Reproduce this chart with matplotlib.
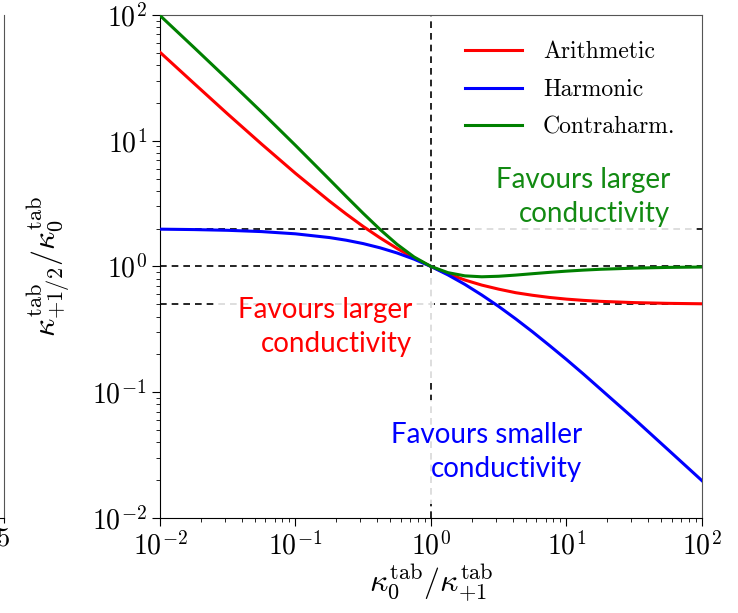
import numpy as np
import matplotlib
matplotlib.use('Agg')
import matplotlib.pyplot as plt

plt.rcParams['font.family'] = 'serif'
plt.rcParams['font.serif'] = ['cmr10']
plt.rcParams['mathtext.fontset'] = 'cm'
plt.rcParams['axes.formatter.use_mathtext'] = True
plt.rcParams['axes.unicode_minus'] = False

# conductivity ratio kappa_0 / kappa_{+1}
ratio = [0.01, 0.0178, 0.0316, 0.0562, 0.1, 0.178, 0.237, 0.316, 0.422, 0.562,
         0.75, 1.0, 1.334, 1.78, 2.37, 3.16, 4.22, 5.62, 7.5, 10.0, 13.34,
         17.8, 31.6, 56.2, 100.0]

# face value / kappa_0 for each averaging rule
arithmetic = [50.5, 28.6, 16.3, 9.4, 5.5, 3.31, 2.61, 2.08, 1.685, 1.39,
              1.167, 1.0, 0.875, 0.78, 0.711, 0.66, 0.6185, 0.59, 0.567, 0.55,
              0.5375, 0.528, 0.516, 0.509, 0.505]
harmonic = [1.98, 1.965, 1.939, 1.894, 1.818, 1.698, 1.617, 1.52, 1.406, 1.28,
            1.143, 1.0, 0.857, 0.72, 0.593, 0.481, 0.383, 0.302, 0.235, 0.182,
            0.1395, 0.106, 0.0614, 0.0349, 0.0198]
contraharm = [99.0, 55.2, 30.7, 16.9, 9.18, 4.92, 3.60, 2.645, 1.963, 1.499,
              1.19, 1.0, 0.893, 0.842, 0.828, 0.836, 0.854, 0.876, 0.898, 0.918,
              0.9355, 0.95, 0.97, 0.983, 0.99]

ref_levels = [2.0, 1.0, 0.5]

fig = plt.figure(figsize=(7.38, 6.13), dpi=100)
ax = fig.add_axes([0.2168, 0.155, 0.7344, 0.8206])

# edge of the neighbouring panel
ax0 = fig.add_axes([-0.5, 0.155, 0.505, 0.8206])
ax0.set_xlim(0, 5)
ax0.set_yticks([])
ax0.set_xticks([5])
ax0.set_xticklabels(['5'], fontsize=19)
for s in ['top', 'left']:
    ax0.spines[s].set_visible(False)
ax0.spines['right'].set_color('#555555')

for lv in ref_levels:
    ax.axhline(lv, color='k', ls=(0, (4, 3)), lw=1.2, zorder=1)
ax.axvline(1.0, color='k', ls=(0, (4, 3)), lw=1.2, zorder=1)

ax.plot(ratio, arithmetic, color='red', lw=2.2, label='Arithmetic', zorder=3)
ax.plot(ratio, harmonic, color='blue', lw=2.2, label='Harmonic', zorder=3)
ax.plot(ratio, contraharm, color='green', lw=2.2, label='Contraharm.', zorder=3)

ax.set_xscale('log')
ax.set_yscale('log')
ax.set_xlim(1e-2, 1e2)
ax.set_ylim(1e-2, 1e2)
ax.tick_params(which='both', direction='out', labelsize=20, top=False, right=False)
ax.tick_params(which='major', length=6)
ax.tick_params(which='minor', length=3)
for s in ['top', 'right']:
    ax.spines[s].set_color('#555555')

ax.set_xlabel(r'$\kappa_0^{\rm tab}/\kappa_{+1}^{\rm tab}$', fontsize=23, labelpad=2)
ax.set_ylabel(r'$\kappa_{+1/2}^{\rm tab}/\kappa_0^{\rm tab}$', fontsize=23, labelpad=14)

leg = ax.legend(loc='upper right', frameon=False, prop={'family': 'cmr10', 'size': 17},
                handlelength=2.4, handletextpad=0.9, labelspacing=0.65,
                bbox_to_anchor=(0.99, 0.99))

box = dict(facecolor='white', edgecolor='none', alpha=0.85, pad=16)
ax.text(0.941, 0.638, 'Favours larger\nconductivity', transform=ax.transAxes,
        ha='right', va='center', color='#128a12', fontsize=20, family='Lato',
        linespacing=1.35, bbox=box, zorder=4)
ax.text(0.465, 0.38, 'Favours larger\nconductivity', transform=ax.transAxes,
        ha='right', va='center', color='red', fontsize=20, family='Lato',
        linespacing=1.35, bbox=box, zorder=4)
ax.text(0.779, 0.131, 'Favours smaller\nconductivity', transform=ax.transAxes,
        ha='right', va='center', color='blue', fontsize=20, family='Lato',
        linespacing=1.35, bbox=box, zorder=4)

fig.savefig('out.png', dpi=100)
